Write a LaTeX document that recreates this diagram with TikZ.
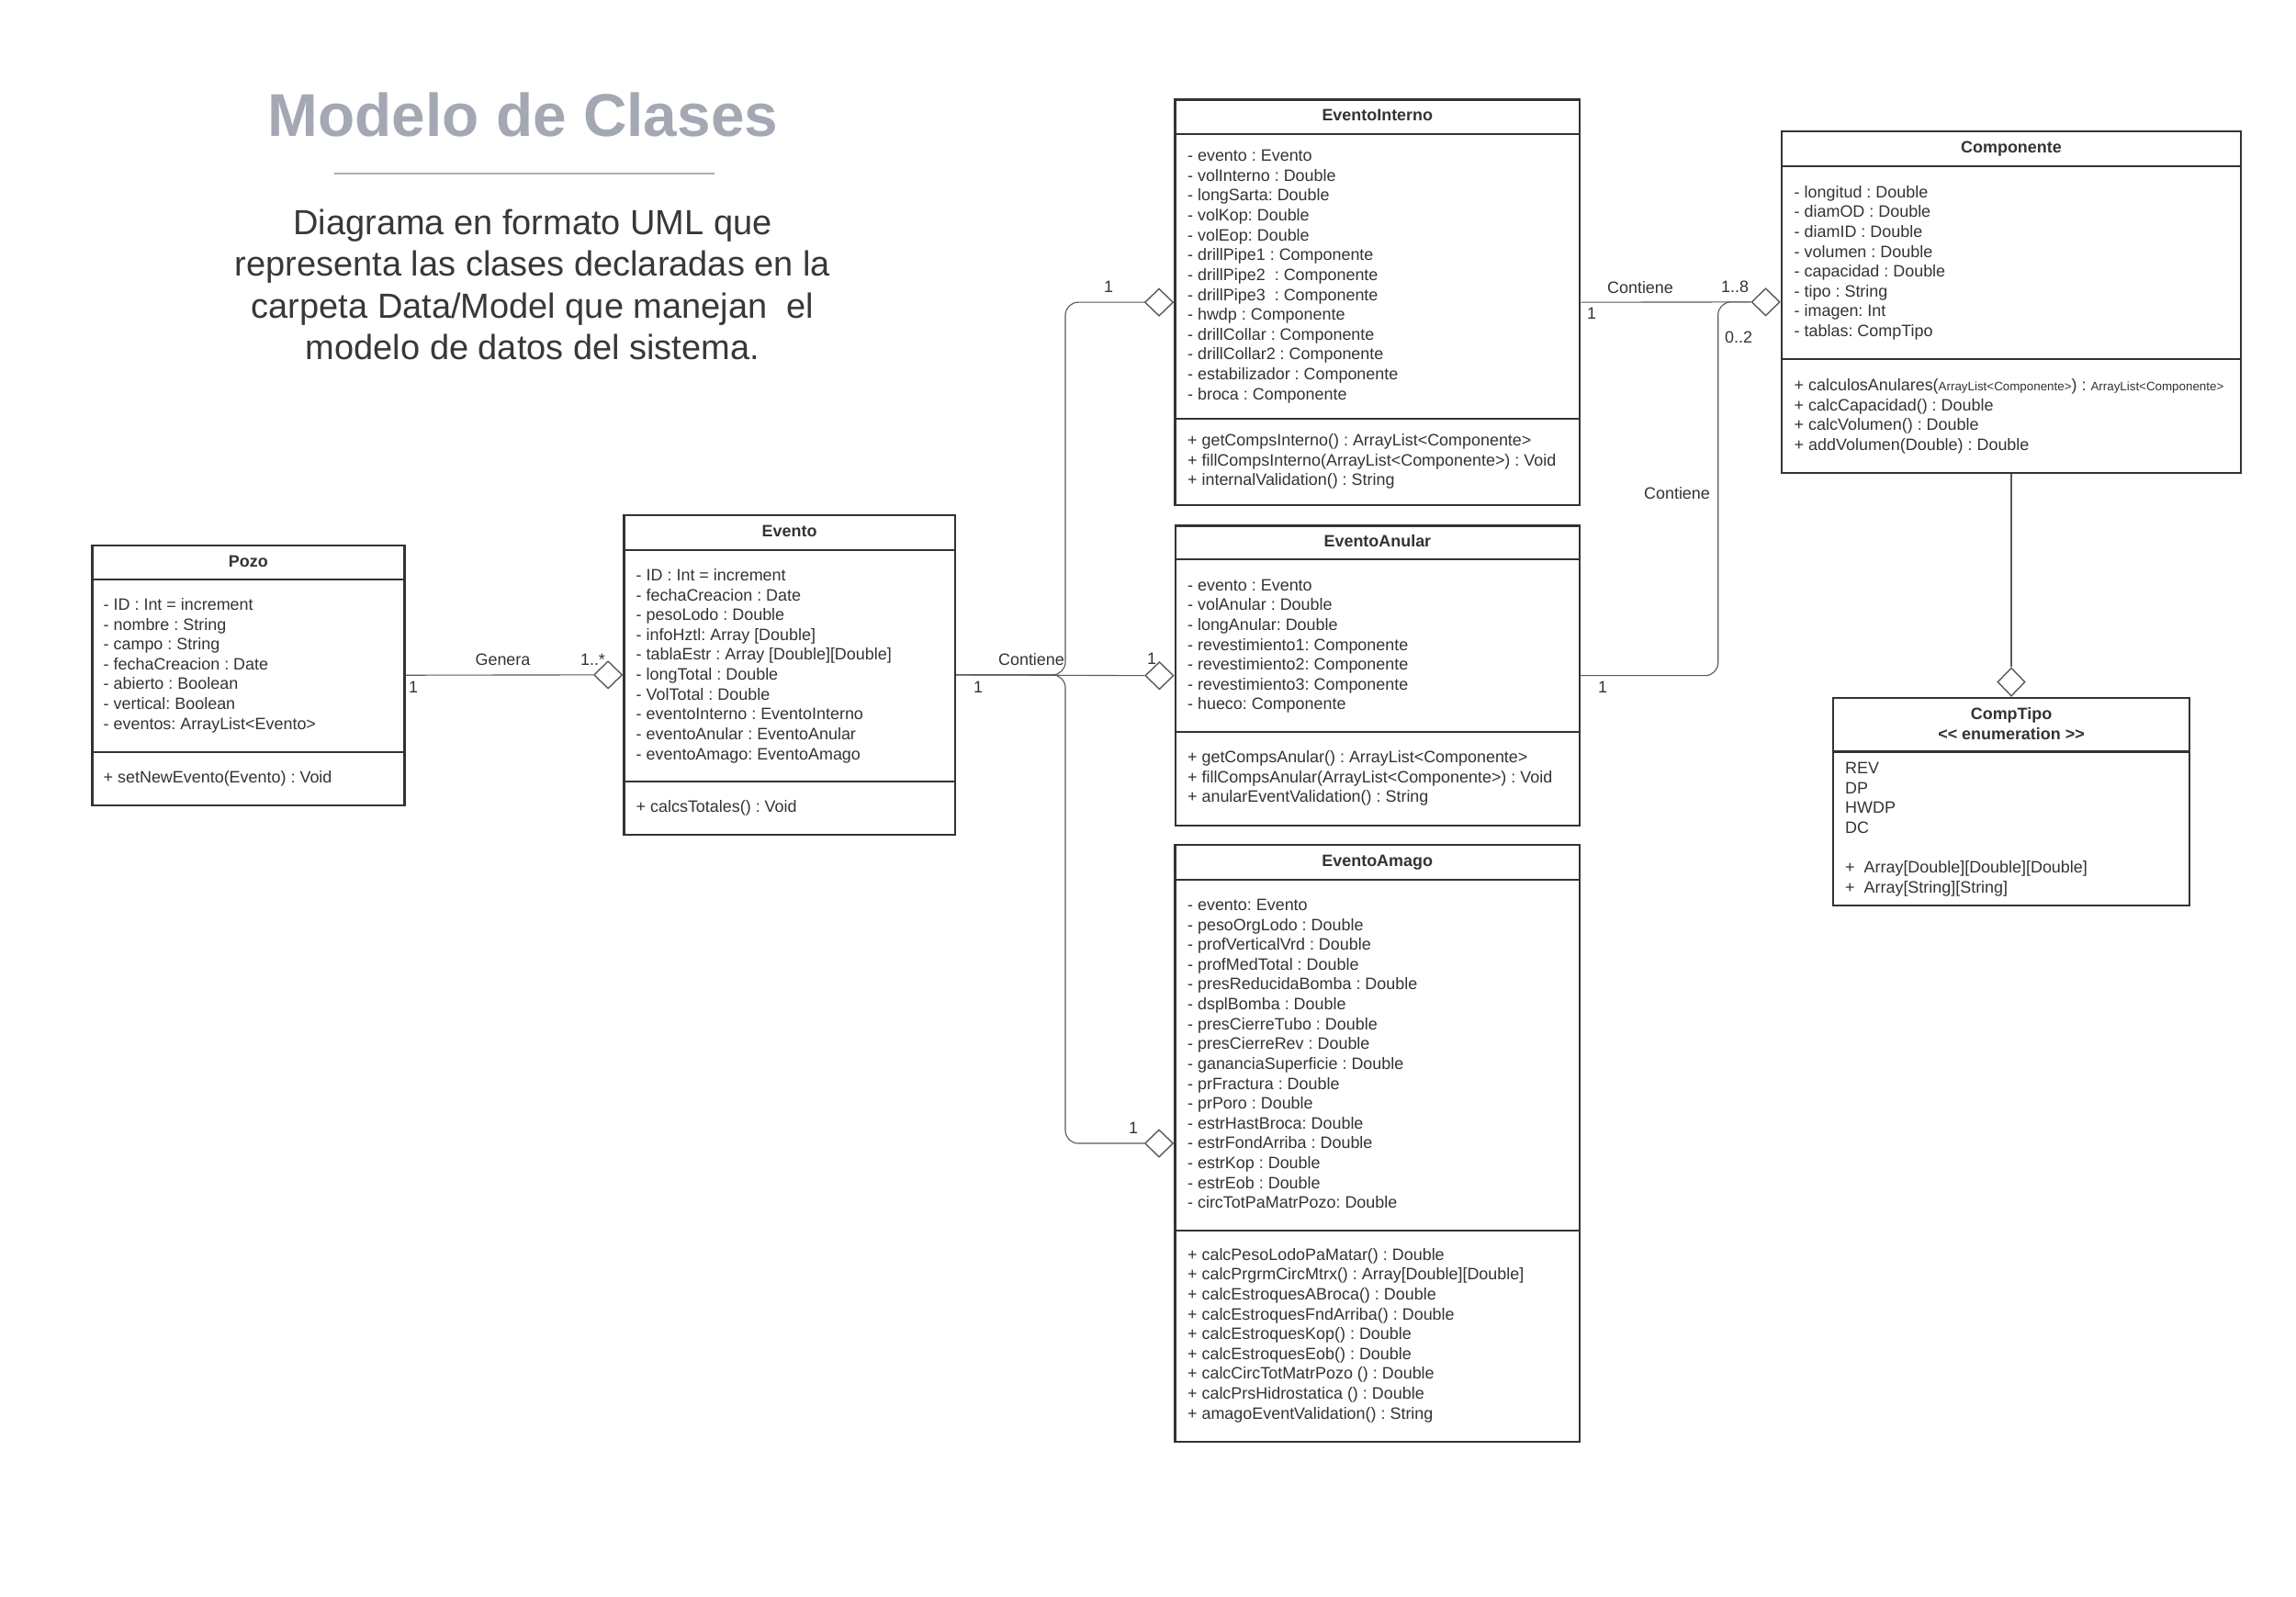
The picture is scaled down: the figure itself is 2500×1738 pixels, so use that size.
\documentclass[tikz,border=0pt]{standalone}
\usepackage{fontspec}
\setmainfont{Liberation Sans}
\usetikzlibrary{shapes.geometric,fit}
\frenchspacing
\definecolor{txtc}{HTML}{333333}
\definecolor{boxc}{HTML}{333333}
\definecolor{linec}{HTML}{5A5A5A}
\definecolor{titlec}{HTML}{A3A8B2}
\definecolor{rulec}{HTML}{A9AEB8}
\definecolor{subc}{HTML}{383838}
\newcommand{\fs}{\fontsize{5.1}{6.15}\selectfont}
\newcommand{\mlines}[1]{\begin{tabular}[t]{@{}l@{}}#1\end{tabular}}
\newcommand{\clines}[1]{\begin{tabular}[t]{@{}c@{}}#1\end{tabular}}
\newcommand{\smallal}{{\fontsize{3.8}{4.5}\selectfont ArrayList<Componente>}}
\tikzset{
  classbox/.style={draw=boxc, line width=0.68pt, inner sep=0pt},
  sepline/.style={draw=boxc, line width=0.68pt},
  ctitle/.style={font=\fs\bfseries, text=txtc, inner sep=0pt, anchor=base},
  members/.style={font=\fs, text=txtc, inner sep=0pt, anchor=base west},
  conn/.style={draw=linec, line width=0.32pt, rounded corners=0.14cm},
  agg/.style={diamond, draw=linec, line width=0.4pt, fill=white, inner sep=0pt,
              minimum width=0.31cm, minimum height=0.30cm},
  aggv/.style={agg, minimum width=0.30cm, minimum height=0.31cm},
  lbl/.style={font=\fs, text=txtc, inner sep=0pt}
}
\begin{document}
\frenchspacing
\begin{tikzpicture}[x=0.01cm, y=-0.01cm]
\useasboundingbox (0,0) rectangle (2500,1738);
\fill[white] (0,0) rectangle (2500,1738);

% ---------- title ----------
\node[font=\fontsize{18.7}{22}\selectfont\bfseries, text=titlec, anchor=base, inner sep=0pt] (title) at (569.5,148.3) {Modelo de Clases};
\draw[draw=rulec, line width=0.57pt] (363.5,188.5) -- (778,188.5);
\node[font=\fontsize{10.8}{12.97}\selectfont, text=subc, anchor=base, inner sep=0pt] (subtitle) at (580,255)
  {\clines{Diagrama en formato UML que\\ representa las clases declaradas en la\\ carpeta Data/Model que manejan\ \ el\\ modelo de datos del sistema.}};

% ---------- Pozo ----------
\node[classbox, fit={(100.4,593.7) (440.3,876.7)}] (pozo) {};
\draw[sepline] (100.4,630.7) -- (440.3,630.7);
\draw[sepline] (100.4,818.7) -- (440.3,818.7);
\node[ctitle] (pozo-t) at (270.3,617) {Pozo};
\node[members] (pozo-a) at (112,664.4) {\mlines{- ID : Int = increment\\ - nombre : String\\ - campo : String\\ - fechaCreacion : Date\\ - abierto : Boolean\\ - vertical: Boolean\\ - eventos: ArrayList<Evento>}};
\node[members] (pozo-m) at (112,852.4) {\mlines{+ setNewEvento(Evento) : Void}};

% ---------- Evento ----------
\node[classbox, fit={(679.5,561) (1039.8,908.7)}] (evento) {};
\draw[sepline] (679.5,598.7) -- (1039.8,598.7);
\draw[sepline] (679.5,850.7) -- (1039.8,850.7);
\node[ctitle] (evento-t) at (859.6,584.5) {Evento};
\node[members] (evento-a) at (692,632.4) {\mlines{- ID : Int = increment\\ - fechaCreacion : Date\\ - pesoLodo : Double\\ - infoHztl: Array [Double]\\ - tablaEstr : Array [Double][Double]\\ - longTotal : Double\\ - VolTotal : Double\\ - eventoInterno : EventoInterno\\ - eventoAnular : EventoAnular\\ - eventoAmago: EventoAmago}};
\node[members] (evento-m) at (692,884.4) {\mlines{+ calcsTotales() : Void}};

% ---------- EventoInterno ----------
\node[classbox, fit={(1279.4,108.3) (1720.2,550)}] (interno) {};
\draw[sepline] (1279.4,145.7) -- (1720.2,145.7);
\draw[sepline] (1279.4,455.7) -- (1720.2,455.7);
\node[ctitle] (interno-t) at (1499.8,131.5) {EventoInterno};
\node[members] (interno-a) at (1292.4,175.7) {\mlines{- evento : Evento\\ - volInterno : Double\\ - longSarta: Double\\ - volKop: Double\\ - volEop: Double\\ - drillPipe1 : Componente\\ - drillPipe2 \ : Componente\\ - drillPipe3 \ : Componente\\ - hwdp : Componente\\ - drillCollar : Componente\\ - drillCollar2 : Componente\\ - estabilizador : Componente\\ - broca : Componente}};
\node[members] (interno-m) at (1292.4,485.4) {\mlines{+ getCompsInterno() : ArrayList<Componente>\\ + fillCompsInterno(ArrayList<Componente>) : Void\\ + internalValidation() : String}};

% ---------- EventoAnular ----------
\node[classbox, fit={(1279.8,572.3) (1720,899)}] (anular) {};
\draw[sepline] (1279.8,609) -- (1720,609);
\draw[sepline] (1279.8,797) -- (1720,797);
\node[ctitle] (anular-t) at (1499.9,595.5) {EventoAnular};
\node[members] (anular-a) at (1292.4,643.1) {\mlines{- evento : Evento\\ - volAnular : Double\\ - longAnular: Double\\ - revestimiento1: Componente\\ - revestimiento2: Componente\\ - revestimiento3: Componente\\ - hueco: Componente}};
\node[members] (anular-m) at (1292.4,830.4) {\mlines{+ getCompsAnular() : ArrayList<Componente>\\ + fillCompsAnular(ArrayList<Componente>) : Void\\ + anularEventValidation() : String}};

% ---------- EventoAmago ----------
\node[classbox, fit={(1279.4,920) (1720,1570)}] (amago) {};
\draw[sepline] (1279.4,957.7) -- (1720,957.7);
\draw[sepline] (1279.4,1340) -- (1720,1340);
\node[ctitle] (amago-t) at (1499.7,943) {EventoAmago};
\node[members] (amago-a) at (1292.4,991.4) {\mlines{- evento: Evento\\ - pesoOrgLodo : Double\\ - profVerticalVrd : Double\\ - profMedTotal : Double\\ - presReducidaBomba : Double\\ - dsplBomba : Double\\ - presCierreTubo : Double\\ - presCierreRev : Double\\ - gananciaSuperficie : Double\\ - prFractura : Double\\ - prPoro : Double\\ - estrHastBroca: Double\\ - estrFondArriba : Double\\ - estrKop : Double\\ - estrEob : Double\\ - circTotPaMatrPozo: Double}};
\node[members] (amago-m) at (1292.4,1372.1) {\mlines{+ calcPesoLodoPaMatar() : Double\\ + calcPrgrmCircMtrx() : Array[Double][Double]\\ + calcEstroquesABroca() : Double\\ + calcEstroquesFndArriba() : Double\\ + calcEstroquesKop() : Double\\ + calcEstroquesEob() : Double\\ + calcCircTotMatrPozo () : Double\\ + calcPrsHidrostatica () : Double\\ + amagoEventValidation() : String}};

% ---------- Componente ----------
\node[classbox, fit={(1940,142.7) (2440,515)}] (componente) {};
\draw[sepline] (1940,181) -- (2440,181);
\draw[sepline] (1940,390.7) -- (2440,390.7);
\node[ctitle] (componente-t) at (2190,166.5) {Componente};
\node[members] (componente-a) at (1953,215.1) {\mlines{- longitud : Double\\ - diamOD : Double\\ - diamID : Double\\ - volumen : Double\\ - capacidad : Double\\ - tipo : String\\ - imagen: Int\\ - tablas: CompTipo}};
\node[members] (componente-m) at (1953,425.7) {\mlines{+ calculosAnulares(\smallal) : \smallal\\ + calcCapacidad() : Double\\ + calcVolumen() : Double\\ + addVolumen(Double) : Double}};

% ---------- CompTipo ----------
\node[classbox, fit={(1996,760) (2384,985.7)}] (comptipo) {};
\draw[sepline] (1996,818.3) -- (2384,818.3);
\node[ctitle] (comptipo-t) at (2190,783.7) {\clines{CompTipo\\ <\kern0pt< enumeration >\kern0pt>}};
\node[members] (comptipo-a) at (2008.5,842.4) {\mlines{REV\\ DP\\ HWDP\\ DC\\ \\ +\ \ Array[Double][Double][Double]\\ +\ \ Array[String][String]}};

% ---------- aggregation diamonds ----------
\node[agg, anchor=east] (dEv) at (evento.west) {};
\node[agg, anchor=east] (dInt) at (interno.west) {};
\node[agg, anchor=east] (dAn) at (anular.west) {};
\node[agg, anchor=east] (dAm) at (amago.west) {};
\node[agg, anchor=east] (dComp) at (componente.west) {};
\node[aggv, anchor=south] (dTipo) at (comptipo.north) {};

% ---------- connectors ----------
\coordinate (tr1) at (1160,0);
\coordinate (tr2) at (1870.7,0);
\draw[conn] (pozo.east) -- (dEv.west);
\draw[conn] (evento.east) -- (dAn.west);
\draw[conn] (evento.east) -- (evento.east -| tr1) -- (dInt.west -| tr1) -- (dInt.west);
\draw[conn] (evento.east) -- (evento.east -| tr1) -- (dAm.west -| tr1) -- (dAm.west);
\draw[conn] (interno.east) -- (dComp.west);
\draw[conn] (anular.east) -- (anular.east -| tr2) -- (dComp.west -| tr2) -- (dComp.west);
\draw[conn] (componente.south) -- (dTipo.north);

% ---------- labels ----------
\node[lbl] (l-genera) at (547.5,718) {Genera};
\node[lbl] (l-m1) at (645.5,718) {1..*};
\node[lbl] (l-p1) at (450,748) {1};
\node[lbl] (l-e1) at (1065,748) {1};
\node[lbl] (l-cont1) at (1123,718) {Contiene};
\node[lbl] (l-an1) at (1254,717) {1};
\node[lbl] (l-in1) at (1207,312.7) {1};
\node[lbl] (l-am1) at (1234,1228) {1};
\node[lbl] (l-cont2) at (1786,312.7) {Contiene};
\node[lbl] (l-m18) at (1889,312.7) {1..8};
\node[lbl] (l-ie1) at (1733,341.7) {1};
\node[lbl] (l-m02) at (1893,367) {0..2};
\node[lbl] (l-cont3) at (1826,537) {Contiene};
\node[lbl] (l-ae1) at (1745,748) {1};
\end{tikzpicture}
\end{document}
